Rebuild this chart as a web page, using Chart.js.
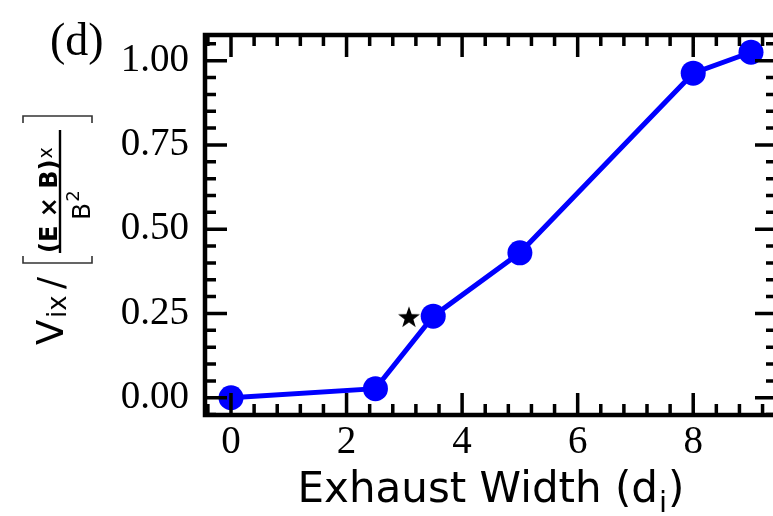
<!DOCTYPE html>
<html><head><meta charset="utf-8">
<script src="https://cdn.jsdelivr.net/npm/chart.js@4"></script>
<style>
html,body{margin:0;padding:0;overflow:hidden;background:#fff;width:773px;height:516px}
#wrap{position:absolute;left:0;top:0;width:790px;height:516px}
</style>
</head><body>
<div id="wrap"><canvas id="c" width="790" height="516"></canvas></div>
<script>
// ---- data ----
const exhaustWidth = [0, 2.5, 3.5, 5, 8, 9];
const velocityRatio = [0, 0.027, 0.242, 0.43, 0.963, 1.025];
const starX = [3.08];
const starY = [0.24];
const xTickValues = [0, 2, 4, 6, 8];
const yTickValues = [0, 0.25, 0.5, 0.75, 1.0];
const xMinorStep = 0.4;
const yMinorStep = 0.05;
const xLimits = [-0.45, 9.45];
const yLimits = [-0.05125, 1.07625];
const panelLabel = '(d)';
const xTitleMain = 'Exhaust Width (d';
const xTitleSub = 'i';

// star marker image
function makeStar(size, color) {
  const cv = document.createElement('canvas');
  cv.width = size; cv.height = size;
  const g = cv.getContext('2d');
  const cx = size / 2, cy = size / 2 + 1, R = size / 2 - 0.5, r = R * 0.4;
  g.beginPath();
  for (let i = 0; i < 10; i++) {
    const a = -Math.PI / 2 + i * Math.PI / 5;
    const rad = i % 2 === 0 ? R : r;
    const px = cx + rad * Math.cos(a), py = cy + rad * Math.sin(a);
    if (i === 0) g.moveTo(px, py); else g.lineTo(px, py);
  }
  g.closePath();
  g.fillStyle = color;
  g.fill();
  return cv;
}
const starImg = makeStar(24, '#000');

const framePlugin = {
  id: 'frame',
  afterDraw(chart) {
    const ctx = chart.ctx;
    const a = chart.chartArea;
    const xs = chart.scales.x, ys = chart.scales.y;
    ctx.save();
    ctx.strokeStyle = '#000';
    ctx.lineCap = 'butt';
    // ticks
    const MAJ = 22, MIN = 11;
    ctx.lineWidth = 3.5;
    ctx.beginPath();
    const isMajor = (v, arr) => arr.some(t => Math.abs(t - v) < 1e-6);
    const xStart = Math.ceil(xs.min / xMinorStep) * xMinorStep;
    for (let k = 0; ; k++) {
      const v = xStart + k * xMinorStep;
      if (v > xs.max + 1e-9) break;
      const len = isMajor(v, xTickValues) ? MAJ : MIN;
      const px = xs.getPixelForValue(v);
      ctx.moveTo(px, a.bottom); ctx.lineTo(px, a.bottom - len);
      ctx.moveTo(px, a.top); ctx.lineTo(px, a.top + len);
    }
    const yStart = Math.ceil(ys.min / yMinorStep - 1e-9) * yMinorStep;
    for (let k = 0; ; k++) {
      const v = yStart + k * yMinorStep;
      if (v > ys.max + 1e-9) break;
      const len = isMajor(v, yTickValues) ? MAJ : MIN;
      const py = ys.getPixelForValue(v);
      ctx.moveTo(a.left, py); ctx.lineTo(a.left + len, py);
      ctx.moveTo(a.right, py); ctx.lineTo(a.right - len, py);
    }
    ctx.stroke();
    // spines
    ctx.lineWidth = 4.5;
    ctx.lineJoin = 'miter';
    ctx.strokeRect(a.left, a.top, a.right - a.left, a.bottom - a.top);

    // panel label
    ctx.fillStyle = '#000';
    ctx.textBaseline = 'alphabetic';
    ctx.textAlign = 'left';
    ctx.font = '46px "Liberation Serif"';
    ctx.fillText(panelLabel, 50, 55);

    // x title
    ctx.font = '42px "DejaVu Sans"';
    const w1 = ctx.measureText(xTitleMain).width;
    ctx.font = '29px "DejaVu Sans"';
    const w2 = ctx.measureText(xTitleSub).width;
    ctx.font = '42px "DejaVu Sans"';
    const w3 = ctx.measureText(')').width;
    const total = w1 + w2 + w3 + 2;
    let x0 = (a.left + a.right) / 2 - total / 2;
    ctx.fillText(xTitleMain, x0, 502);
    ctx.font = '29px "DejaVu Sans"';
    ctx.fillText(xTitleSub, x0 + w1 + 1, 512);
    ctx.font = '42px "DejaVu Sans"';
    ctx.fillText(')', x0 + w1 + w2 + 2, 502);

    // y title (rotated)
    ctx.translate(63, 345);
    ctx.rotate(-Math.PI / 2);
    ctx.font = '37px "DejaVu Sans"';
    ctx.fillText('V', 0, 0);
    ctx.font = '26px "DejaVu Sans"';
    ctx.fillText('ix', 27, 3);
    ctx.font = '36px "DejaVu Sans"';
    ctx.fillText('/', 56, 0);
    // brackets
    ctx.strokeStyle = '#333';
    ctx.lineWidth = 1.6;
    ctx.beginPath();
    ctx.moveTo(89, -40); ctx.lineTo(82, -40); ctx.lineTo(82, 29); ctx.lineTo(89, 29);
    ctx.moveTo(222, -40); ctx.lineTo(229, -40); ctx.lineTo(229, 29); ctx.lineTo(222, 29);
    ctx.stroke();
    // fraction line
    ctx.strokeStyle = '#000';
    ctx.lineWidth = 2.4;
    ctx.beginPath();
    ctx.moveTo(92, -3); ctx.lineTo(215, -3);
    ctx.stroke();
    // numerator
    ctx.font = 'bold 24px "DejaVu Sans"';
    const num = '(E \u00d7 B)';
    ctx.fillText(num, 92, -6);
    const nw = ctx.measureText(num).width;
    ctx.font = '19px "DejaVu Sans"';
    ctx.fillText('x', 92 + nw + 1, -11);
    // denominator
    ctx.font = '25px "DejaVu Sans"';
    ctx.fillText('B', 125, 27);
    const bw = ctx.measureText('B').width;
    ctx.font = '18px "DejaVu Sans"';
    ctx.fillText('2', 125 + bw + 1, 16);
    ctx.restore();
  }
};

new Chart(document.getElementById('c'), {
  type: 'scatter',
  data: {
    datasets: [
      {
        data: exhaustWidth.map((x, i) => ({ x: x, y: velocityRatio[i] })),
        showLine: true,
        borderColor: '#0000ff',
        borderWidth: 5,
        backgroundColor: '#0000ff',
        pointBackgroundColor: '#0000ff',
        pointBorderWidth: 0,
        pointRadius: 12.5,
        tension: 0,
        clip: false
      },
      {
        data: starX.map((x, i) => ({ x: x, y: starY[i] })),
        showLine: false,
        pointStyle: starImg,
        pointRadius: 12,
        clip: false
      }
    ]
  },
  options: {
    responsive: false,
    animation: false,
    devicePixelRatio: 1,
    layout: { padding: { top: 35, right: 9, left: 0, bottom: 0 } },
    plugins: { legend: { display: false }, tooltip: { enabled: false } },
    scales: {
      x: {
        type: 'linear',
        min: xLimits[0], max: xLimits[1],
        grid: { display: false, drawTicks: false },
        border: { display: false },
        ticks: {
          color: '#000',
          font: { family: 'Liberation Serif', size: 39 },
          padding: 4,
          maxRotation: 0,
          callback: v => String(v)
        },
        afterBuildTicks: s => { s.ticks = xTickValues.map(v => ({ value: v })); },
        afterFit: s => { s.height = 101; s.paddingLeft = 0; s.paddingRight = 0; }
      },
      y: {
        type: 'linear',
        min: yLimits[0], max: yLimits[1],
        grid: { display: false, drawTicks: false },
        border: { display: false },
        ticks: {
          color: '#000',
          font: { family: 'Liberation Serif', size: 39 },
          padding: 16,
          callback: v => Number(v).toFixed(2)
        },
        afterBuildTicks: s => { s.ticks = yTickValues.map(v => ({ value: v })); },
        afterFit: s => { s.width = 205; s.paddingTop = 0; s.paddingBottom = 0; }
      }
    }
  },
  plugins: [framePlugin]
});
</script>
</body></html>
